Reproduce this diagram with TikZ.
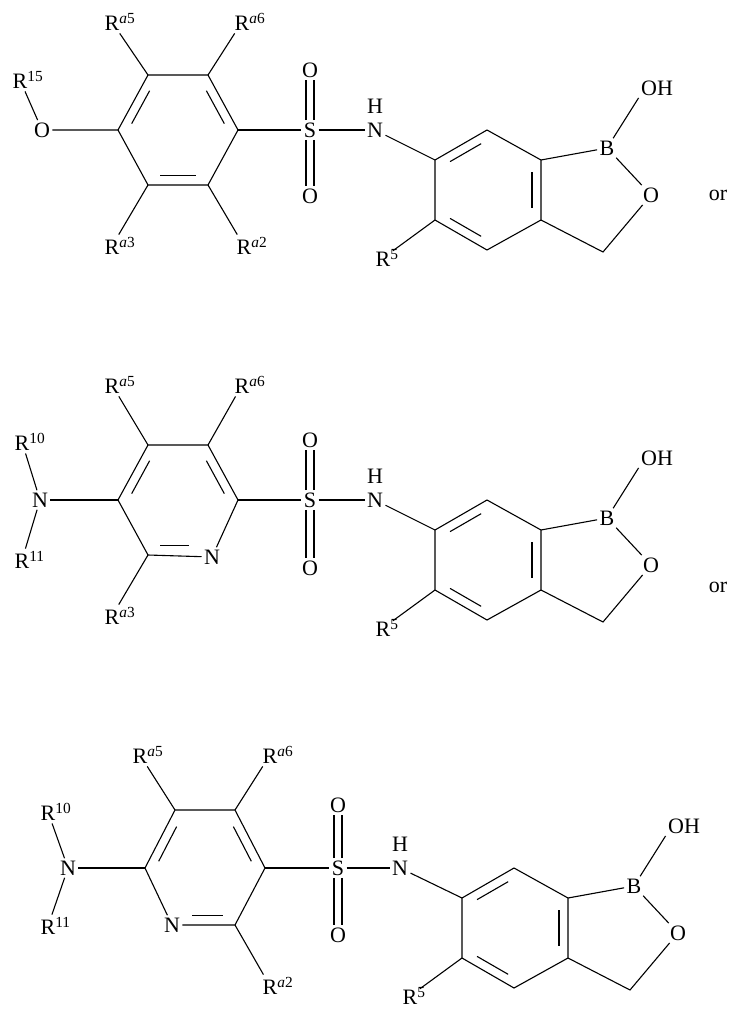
\documentclass[tikz,border=0pt]{standalone}
\usepackage{fontspec}
\setmainfont{Liberation Serif}
\usetikzlibrary{calc}
\begin{document}
\begin{tikzpicture}[x=1pt,y=-1pt,line width=1.1pt,
  atom/.style={inner sep=2pt,font=\fontsize{22}{26}\selectfont},
  bnd/.style={line width=1.1pt}]
\useasboundingbox (0,0) rectangle (733,1010);
\newcommand{\Rs}[1]{R\rlap{\textsuperscript{#1}}}
\newcommand{\dbl}[3]{\draw ($(#1)!.14!(#2)!.17!(#3)$) -- ($(#2)!.14!(#1)!.17!(#3)$);}
\newcommand{\sotwo}[3]{% S, Otop, Obot
  \draw ([xshift=-4pt]#1.north) -- ([xshift=-4pt]#2.south);
  \draw ([xshift=4pt]#1.north) -- ([xshift=4pt]#2.south);
  \draw ([xshift=-4pt]#1.south) -- ([xshift=-4pt]#3.north);
  \draw ([xshift=4pt]#1.south) -- ([xshift=4pt]#3.north);}
\tikzset{bxb/.pic={
  \coordinate (-a) at (0,0); \coordinate (-b) at (52,-30); \coordinate (-c) at (106,0);
  \coordinate (-d) at (106,60); \coordinate (-e) at (52,90); \coordinate (-f) at (0,60);
  \coordinate (-m) at (53,30); \coordinate (-ch) at (168,92);
  \node[atom] (-B) at (172,-12) {B};
  \node[atom] (-O) at (216,35) {O};
  \node[atom] (-OH) at (222,-72) {OH};
  \node[atom] (-R5) at (-52,98) {\Rs{5}};
  \draw (-a)--(-b)--(-c)--(-d)--(-e)--(-f)--cycle;
  \dbl{-a}{-b}{-m} \dbl{-c}{-d}{-m} \dbl{-e}{-f}{-m}
  \draw (-c)--(-B)--(-O)--(-ch)--(-d);
  \draw (-B)--(-OH.south west);
  \draw (-f)--(-R5);
}}
% ---------- structure 1
\coordinate (p1) at (148,75); \coordinate (p2) at (208,75); \coordinate (p3) at (238,130);
\coordinate (p4) at (208,185); \coordinate (p5) at (148,185); \coordinate (p6) at (118,130);
\coordinate (c1) at (178,130);
\draw (p1)--(p2)--(p3)--(p4)--(p5)--(p6)--cycle;
\dbl{p6}{p1}{c1} \dbl{p2}{p3}{c1} \dbl{p4}{p5}{c1}
\node[atom] (o1) at (42,130) {O};
\node[atom] (r15) at (20,80) {\Rs{15}};
\draw (r15)--(o1)--(p6);
\node[atom] (a5) at (112,22) {\Rs{\textit{a}5}};
\node[atom] (a6) at (242,22) {\Rs{\textit{a}6}};
\node[atom] (a3) at (112,246) {\Rs{\textit{a}3}};
\node[atom] (a2) at (244,246) {\Rs{\textit{a}2}};
\draw (a5)--(p1); \draw (a6)--(p2); \draw (a3)--(p5); \draw (a2)--(p4);
\node[atom] (s1) at (310,130) {S};
\node[atom] (s1t) at (310,70) {O};
\node[atom] (s1b) at (310,196) {O};
\sotwo{s1}{s1t}{s1b}
\draw (p3)--(s1);
\node[atom] (n1) at (375,130) {N};
\node[atom] at (375,106) {H};
\draw (s1)--(n1);
\pic (b1) at (435,160) {bxb};
\draw (n1)--(b1-a);
\node[atom] (or1) at (718,195) {or};
% ---------- structure 2
\coordinate (q1) at (148,445); \coordinate (q2) at (208,445); \coordinate (q3) at (238,500);
\coordinate (q4) at (208,555); \coordinate (q5) at (148,555); \coordinate (q6) at (118,500);
\coordinate (c2) at (178,500);
\node[atom] (qn) at (212,557) {N};
\draw (qn)--(q3)--(q2)--(q1)--(q6)--(q5)--(qn);
\dbl{q6}{q1}{c2} \dbl{q2}{q3}{c2}
\draw ($(q5)!.14!(q4)!.17!(c2)$) -- ($(q4)!.28!(q5)!.17!(c2)$);
\node[atom] (n2a) at (40,500) {N};
\node[atom] (r10a) at (22,442) {\Rs{10}};
\node[atom] (r11a) at (22,560) {\Rs{11}};
\draw (r10a)--(n2a)--(r11a); \draw (n2a)--(q6);
\node[atom] (b5) at (112,385) {\Rs{\textit{a}5}};
\node[atom] (b6) at (242,385) {\Rs{\textit{a}6}};
\node[atom] (b3) at (112,616) {\Rs{\textit{a}3}};
\draw (b5)--(q1); \draw (b6)--(q2); \draw (b3)--(q5);
\node[atom] (s2) at (310,500) {S};
\node[atom] (s2t) at (310,440) {O};
\node[atom] (s2b) at (310,568) {O};
\sotwo{s2}{s2t}{s2b}
\draw (q3)--(s2);
\node[atom] (n2) at (375,500) {N};
\node[atom] at (375,476) {H};
\draw (s2)--(n2);
\pic (b2) at (435,530) {bxb};
\draw (n2)--(b2-a);
\node[atom] (or2) at (718,587) {or};
% ---------- structure 3
\coordinate (t1) at (175,810); \coordinate (t2) at (235,810); \coordinate (t3) at (265,868);
\coordinate (t4) at (235,925); \coordinate (t5) at (172,925); \coordinate (t6) at (145,868);
\coordinate (c3) at (205,868);
\node[atom] (tn) at (172,925) {N};
\draw (tn)--(t6)--(t1)--(t2)--(t3)--(t4)--(tn);
\dbl{t6}{t1}{c3} \dbl{t2}{t3}{c3}
\draw ($(t5)!.28!(t4)!.17!(c3)$) -- ($(t4)!.14!(t5)!.17!(c3)$);
\node[atom] (n3a) at (68,868) {N};
\node[atom] (r10b) at (48,812) {\Rs{10}};
\node[atom] (r11b) at (48,926) {\Rs{11}};
\draw (r10b)--(n3a)--(r11b); \draw (n3a)--(t6);
\node[atom] (d5) at (140,755) {\Rs{\textit{a}5}};
\node[atom] (d6) at (270,755) {\Rs{\textit{a}6}};
\node[atom] (d2) at (270,986) {\Rs{\textit{a}2}};
\draw (d5)--(t1); \draw (d6)--(t2); \draw (d2)--(t4);
\node[atom] (s3) at (338,868) {S};
\node[atom] (s3t) at (338,805) {O};
\node[atom] (s3b) at (338,935) {O};
\sotwo{s3}{s3t}{s3b}
\draw (t3)--(s3);
\node[atom] (n3) at (400,868) {N};
\node[atom] at (400,844) {H};
\draw (s3)--(n3);
\pic (b3) at (462,898) {bxb};
\draw (n3)--(b3-a);
\end{tikzpicture}
\end{document}
